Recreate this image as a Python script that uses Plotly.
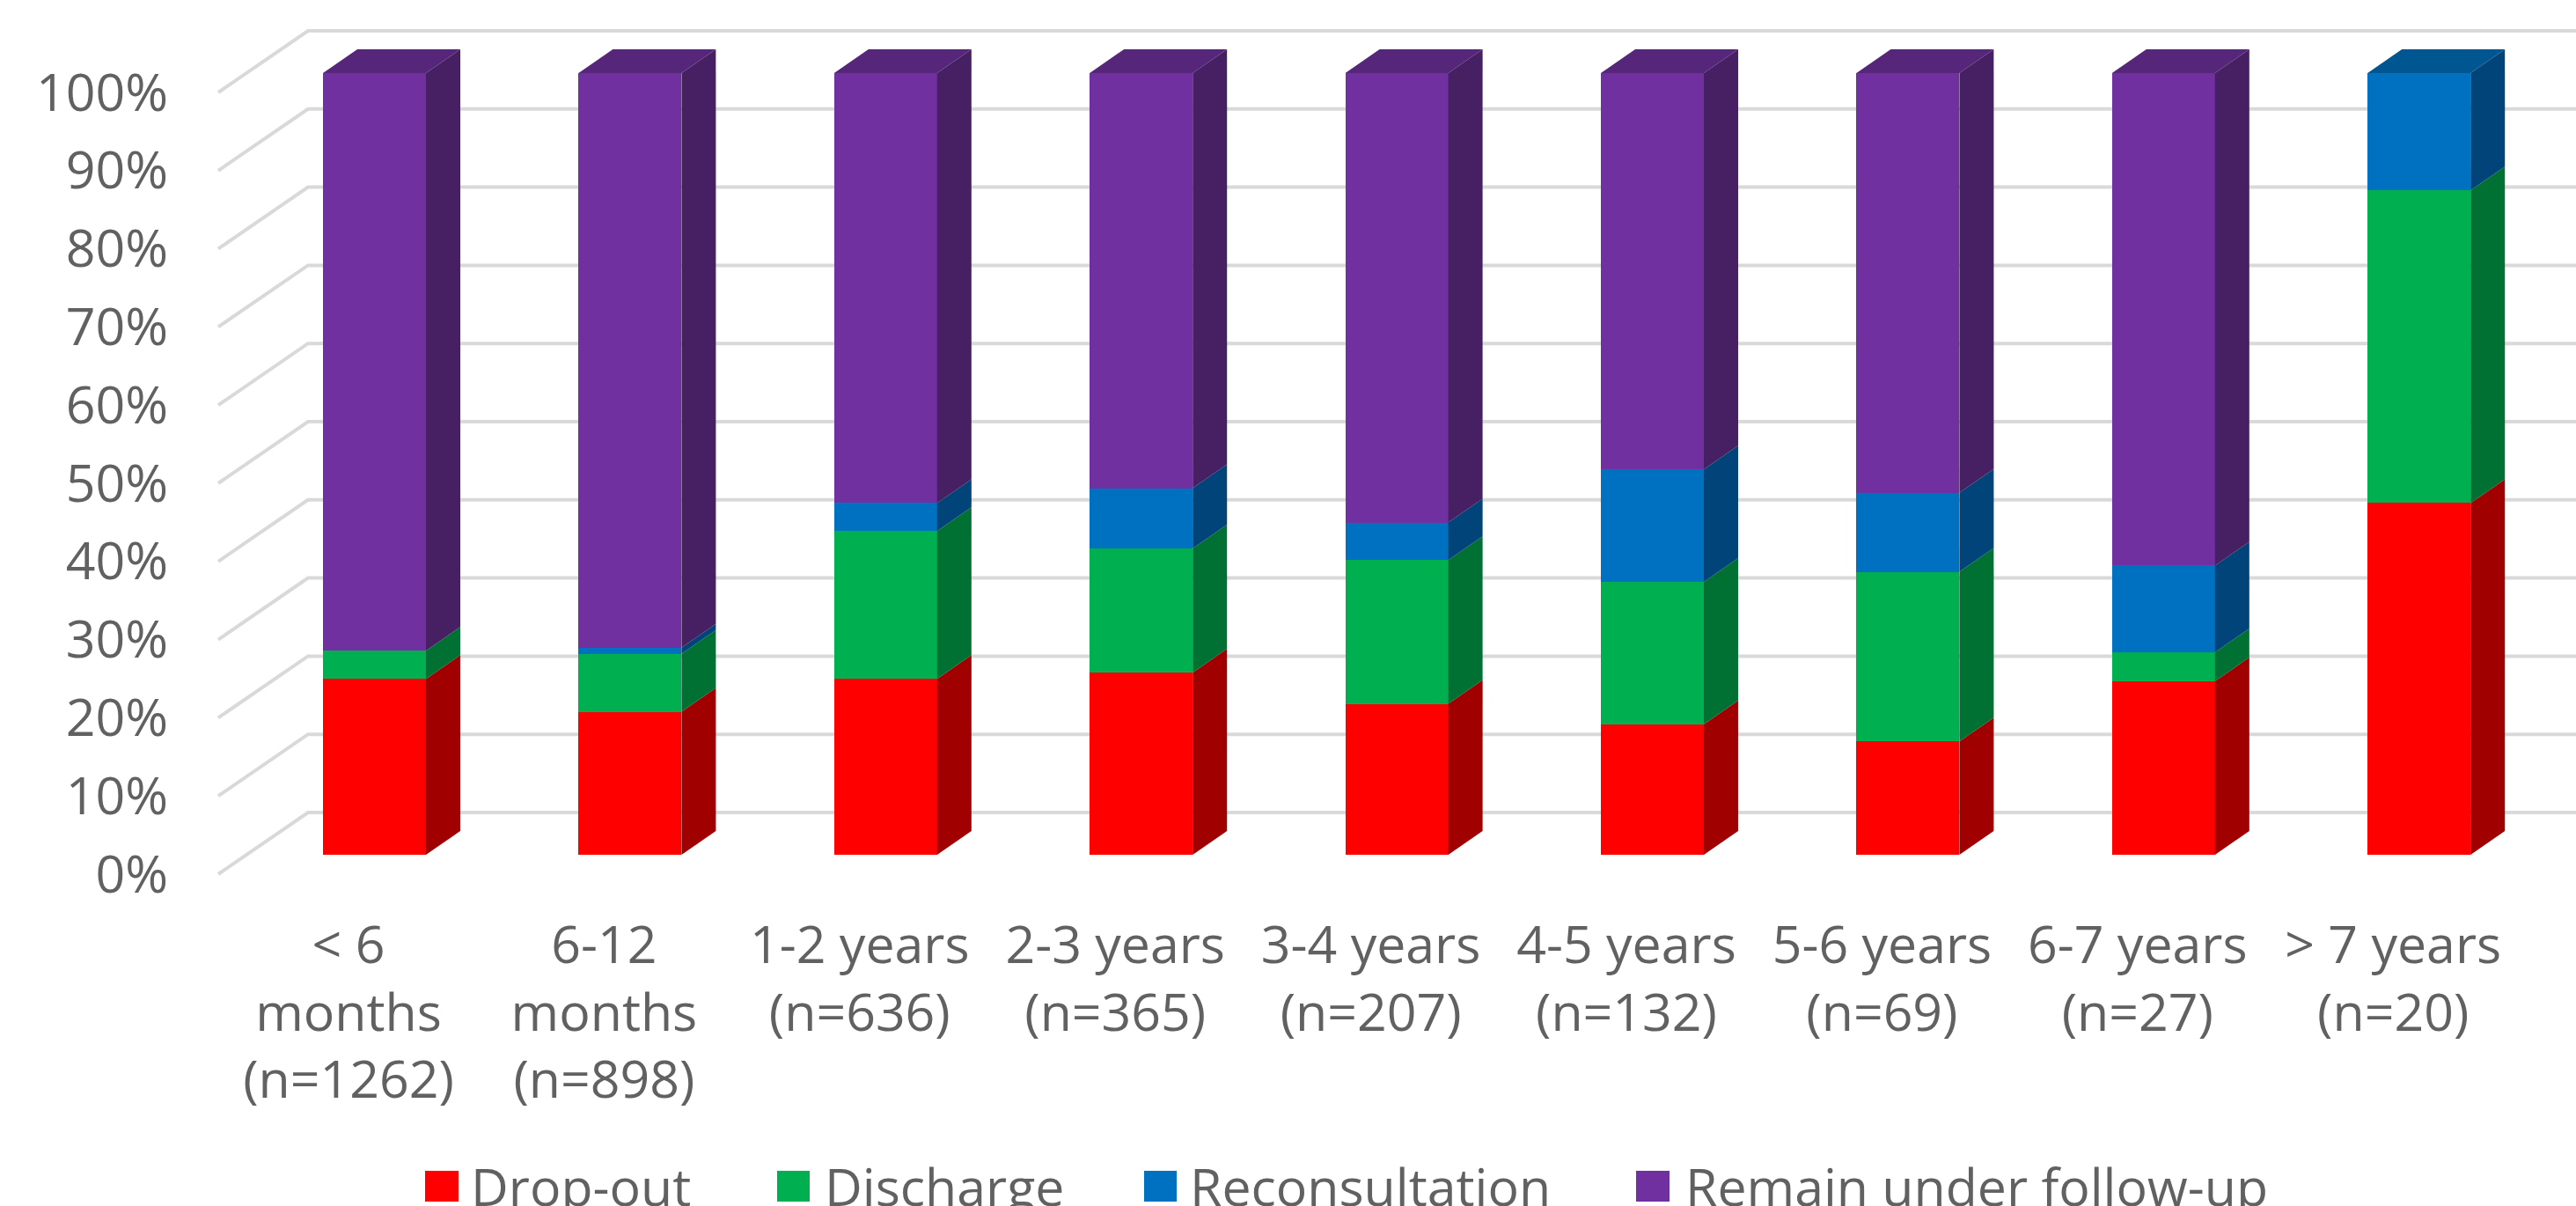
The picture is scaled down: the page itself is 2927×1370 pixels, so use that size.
import plotly.graph_objects as go

# Follow-up outcome shares (%) by time since first consultation
categories = ["< 6<br>months<br>(n=1262)", "6-12<br>months<br>(n=898)", "1-2 years<br>(n=636)",
              "2-3 years<br>(n=365)", "3-4 years<br>(n=207)", "4-5 years<br>(n=132)",
              "5-6 years<br>(n=69)", "6-7 years<br>(n=27)", "> 7 years<br>(n=20)"]
drop_out = [22.5, 18.3, 22.5, 23.3, 19.3, 16.7, 14.5, 22.2, 45.0]
discharge = [3.6, 7.4, 18.9, 15.9, 18.4, 18.2, 21.7, 3.7, 40.0]
reconsultation = [0.0, 0.8, 3.6, 7.7, 4.8, 14.4, 10.1, 11.1, 15.0]
remain = [73.9, 73.5, 55.0, 53.1, 57.5, 50.7, 53.7, 63.0, 0.0]
y_ticks = [0, 10, 20, 30, 40, 50, 60, 70, 80, 90, 100]

series = [
    ("Drop-out", drop_out, "#FF0000", "#A00000", "#B00000"),
    ("Discharge", discharge, "#00B050", "#007033", "#008A40"),
    ("Reconsultation", reconsultation, "#0070C0", "#004479", "#005690"),
    ("Remain under follow-up", remain, "#7030A0", "#472064", "#55267A"),
]

# Canvas and plot-area geometry in pixels
W, H = 2927, 1370
L, T, B = 192, 20, 1000
PX_X, PX_Y = 290.4, 8.88          # pixels per category and per percentage point
FRONT_X0, FRONT_Y0 = 396.0, 993.0  # category 0 / 0% on the labelled front plane
BAR_X0, BAR_Y0 = 425.5, 971.0      # category 0 / 0% on the plane of the bar faces
BAR_W = 117 / PX_X
DX, DY = 39 / PX_X, 27 / PX_Y      # bar depth offset in axis units
WALL_X = (350 - FRONT_X0) / PX_X   # back-left corner of the chart walls
FLOOR_X = (248 - FRONT_X0) / PX_X  # front-left corner of the chart walls
WALL_DY = 70 / PX_Y

FONT = "Open Sans"
FONT_SIZE = 59
TEXT = "#616161"
GRID = "#D9D9D9"


def xrange_for(x0):
    return [(L - x0) / PX_X, (W - x0) / PX_X]


def yrange_for(y0):
    return [(y0 - B) / PX_Y, (y0 - T) / PX_Y]


fig = go.Figure()

# Gridlines: up the side wall from the front edge, then across the back wall
x_end = xrange_for(FRONT_X0)[1]
for v in y_ticks:
    fig.add_trace(go.Scatter(x=[FLOOR_X, WALL_X, x_end], y=[v, v + WALL_DY, v + WALL_DY],
                             mode="lines", line=dict(color=GRID, width=4),
                             hoverinfo="skip", showlegend=False))

# Front faces of the stacked bars
xs = list(range(len(categories)))
for name, vals, face, side, top in series:
    fig.add_trace(go.Bar(x=xs, y=vals, name=name, width=BAR_W, marker=dict(color=face, line=dict(width=0)),
                         xaxis="x2", yaxis="y2", showlegend=False))

# Side faces of every segment and the top face of each column
totals = [0.0] * len(categories)
for s, (name, vals, face, side, top) in enumerate(series):
    for i, v in enumerate(vals):
        if v <= 0:
            continue
        lo, hi = totals[i], totals[i] + v
        totals[i] = hi
        r = i + BAR_W / 2
        l = i - BAR_W / 2
        fig.add_trace(go.Scatter(x=[r, r + DX, r + DX, r, r], y=[lo, lo + DY, hi + DY, hi, lo],
                                 mode="lines", fill="toself", fillcolor=side, line=dict(width=0),
                                 xaxis="x2", yaxis="y2", hoverinfo="skip", showlegend=False))
        if not any(later[1][i] > 0 for later in series[s + 1:]):
            fig.add_trace(go.Scatter(x=[l, l + DX, r + DX, r, l], y=[hi, hi + DY, hi + DY, hi, hi],
                                     mode="lines", fill="toself", fillcolor=top, line=dict(width=0),
                                     xaxis="x2", yaxis="y2", hoverinfo="skip", showlegend=False))

# Legend row along the bottom edge
PW, PH = W - L, B - T
legend_px = [(483, 521, 533), (883, 920, 935), (1300, 1337, 1350), (1859, 1897, 1913)]
shapes, notes = [], []
for (name, vals, face, side, top), (x0, x1, tx) in zip(series, legend_px):
    shapes.append(dict(type="rect", xref="paper", yref="paper", line=dict(width=0), fillcolor=face,
                       x0=(x0 - L) / PW, x1=(x1 - L) / PW, y0=(B - 1365) / PH, y1=(B - 1330) / PH))
    notes.append(dict(text=name, xref="paper", yref="paper", x=(tx - L) / PW, y=(B - 1347) / PH,
                      xanchor="left", yanchor="middle", showarrow=False,
                      font=dict(family=FONT, size=FONT_SIZE, color=TEXT)))

fig.update_layout(
    width=W, height=H, margin=dict(l=L, r=0, t=T, b=H - B, pad=0),
    paper_bgcolor="white", plot_bgcolor="white", barmode="stack", bargap=0,
    showlegend=False, shapes=shapes, annotations=notes,
    font=dict(family=FONT, size=FONT_SIZE, color=TEXT),
    xaxis=dict(range=xrange_for(FRONT_X0), tickmode="array", tickvals=xs, ticktext=categories,
               showgrid=False, zeroline=False, showline=False, ticks="outside", ticklen=22,
               tickcolor="rgba(0,0,0,0)", tickangle=0),
    yaxis=dict(range=yrange_for(FRONT_Y0), tickmode="array", tickvals=y_ticks,
               ticktext=[f"{v}%" for v in y_ticks], showgrid=False, zeroline=False, showline=False),
    xaxis2=dict(range=xrange_for(BAR_X0), overlaying="x", visible=False),
    yaxis2=dict(range=yrange_for(BAR_Y0), overlaying="y", visible=False),
)

fig.write_html("out.html", config=dict(displayModeBar=False))
